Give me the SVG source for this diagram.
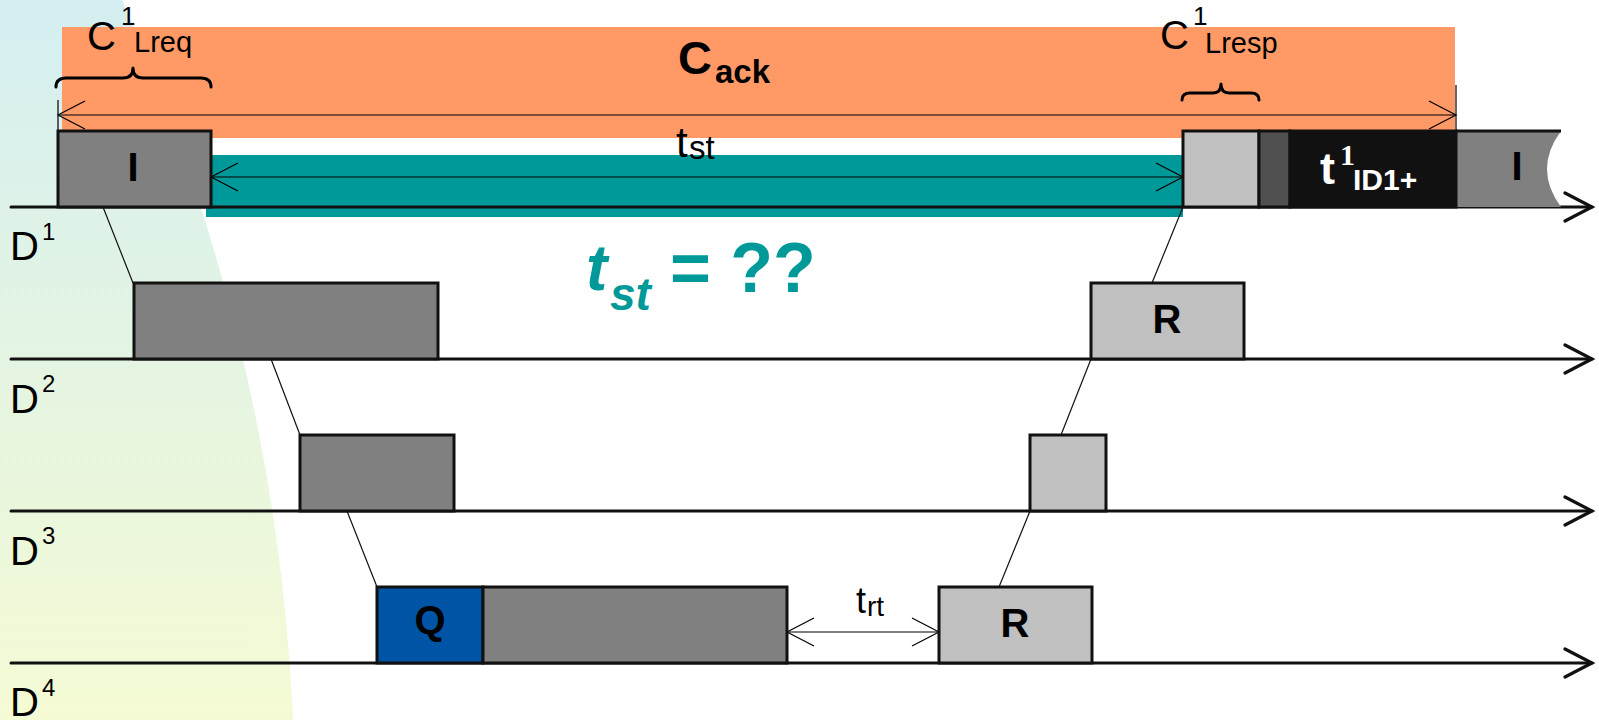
<svg xmlns="http://www.w3.org/2000/svg" width="1599" height="720" viewBox="0 0 1599 720">
  <defs>
    <linearGradient id="bgGrad" x1="0" y1="0" x2="0" y2="1">
      <stop offset="0" stop-color="#D4EEF1"/>
      <stop offset="0.45" stop-color="#E3F4E4"/>
      <stop offset="1" stop-color="#F4FBD4"/>
    </linearGradient>
    <!-- open arrowhead for dimension lines -->
    <marker id="headThin" viewBox="0 0 32 32" refX="29" refY="16" markerWidth="32" markerHeight="32" markerUnits="userSpaceOnUse" orient="auto-start-reverse">
      <path d="M2,2 L29,16 L2,30" fill="none" stroke="#000" stroke-width="1.2"/>
    </marker>
    <!-- open arrowhead for the time axes -->
    <marker id="headAxis" viewBox="0 0 36 32" refX="30" refY="16" markerWidth="36" markerHeight="32" markerUnits="userSpaceOnUse" orient="auto">
      <path d="M3,2 L30,16 L3,30" fill="none" stroke="#111" stroke-width="3.2" stroke-linecap="round"/>
    </marker>
    <style>
      .axis { stroke:#111; stroke-width:3; stroke-linecap:round; fill:none; marker-end:url(#headAxis); }
      .link { stroke:#111; stroke-width:1.2; fill:none; }
      .dim { stroke:#000; stroke-width:1.2; fill:none; marker-start:url(#headThin); marker-end:url(#headThin); }
      .tick { stroke:#000; stroke-width:1.2; }
      .brace { stroke:#000; stroke-width:3; fill:none; stroke-linecap:round; stroke-linejoin:round; }
      .box { stroke:#111; stroke-width:3; }
      .mid { fill:#808080; }
      .light { fill:#C0C0C0; }
      .dark { fill:#505050; }
      .black { fill:#111; }
      .blue { fill:#0054A6; }
      .lbl { font-family:"Liberation Sans", Arial, sans-serif; fill:#000; }
      .bold { font-weight:bold; }
      .white { fill:#fff; }
      .boxtxt { font-family:"Liberation Sans", Arial, sans-serif; font-weight:bold; font-size:40px; text-anchor:middle; fill:#000; }
      .teal { font-family:"Liberation Sans", Arial, sans-serif; font-weight:bold; fill:#009999; }
    </style>
  </defs>

  <!-- soft backdrop on the left edge -->
  <path id="backdrop" d="M0,0 L122,0 C228,240 282,480 293,720 L0,720 Z" fill="url(#bgGrad)"/>

  <!-- coloured spans -->
  <g id="bands">
    <rect x="62" y="27" width="1393" height="111" fill="#FF9966"/>
    <rect x="206" y="155" width="977" height="62" fill="#009999"/>
  </g>

  <!-- time axes D1..D4 -->
  <g id="axes">
    <line class="axis" x1="11" y1="207" x2="1592" y2="207"/>
    <line class="axis" x1="11" y1="359" x2="1592" y2="359"/>
    <line class="axis" x1="11" y1="511" x2="1592" y2="511"/>
    <line class="axis" x1="11" y1="663" x2="1592" y2="663"/>
  </g>

  <!-- connectors, dimension arrows and braces -->
  <g id="connectors">
    <line class="link" x1="103" y1="207" x2="133" y2="283"/>
    <line class="link" x1="271" y1="359" x2="300" y2="435"/>
    <line class="link" x1="347" y1="511" x2="377" y2="587"/>
    <line class="link" x1="1183" y1="207" x2="1152" y2="283"/>
    <line class="link" x1="1091" y1="359" x2="1061" y2="435"/>
    <line class="link" x1="1030" y1="511" x2="999" y2="587"/>
    <line class="tick" x1="58" y1="100" x2="58" y2="131"/>
    <line class="tick" x1="1456" y1="85" x2="1456" y2="131"/>
    <line class="dim" x1="58" y1="115" x2="1456" y2="115"/>
    <line class="dim" x1="211" y1="177" x2="1183" y2="177"/>
    <line class="dim" x1="787" y1="632" x2="939" y2="632"/>
    <path class="brace" d="M56,87 Q56,78 66,78 L123,78 Q133,78 133,68 Q133,78 143,78 L201,78 Q211,78 211,87"/>
    <path class="brace" d="M1182,100 Q1182,93 1190,93 L1213,93 Q1221,93 1221,84 Q1221,93 1229,93 L1251,93 Q1259,93 1259,100"/>
  </g>

  <!-- D1 -->
  <g id="d1-request">
    <rect class="box mid" x="58" y="131" width="153" height="76"/>
    <text class="boxtxt" x="133" y="181">I</text>
  </g>
  <g id="d1-response">
    <rect class="box light" x="1183" y="131" width="76" height="76"/>
  </g>
  <g id="d1-gap">
    <rect class="box dark" x="1259" y="131" width="31" height="76"/>
  </g>
  <g id="d1-idle">
    <rect class="box black" x="1290" y="131" width="166" height="76"/>
    <text class="lbl bold white" font-size="45" x="1320" y="184">t</text>
    <text class="white" font-family="'Liberation Serif', 'Times New Roman', serif" font-weight="bold" font-size="30" x="1340" y="165">1</text>
    <text class="lbl bold white" font-size="30" x="1353" y="190">ID1+</text>
  </g>
  <g id="d1-next">
    <path class="mid" d="M1456,131 L1561,131 Q1533,169 1561,207 L1456,207 Z"/>
    <line x1="1456" y1="131" x2="1561" y2="131" stroke="#111" stroke-width="3"/>
    <line x1="1456" y1="131" x2="1456" y2="207" stroke="#111" stroke-width="3"/>
    <text class="boxtxt" x="1517" y="180">I</text>
  </g>

  <!-- D2 -->
  <g id="d2-request">
    <rect class="box mid" x="134" y="283" width="304" height="76"/>
  </g>
  <g id="d2-response">
    <rect class="box light" x="1091" y="283" width="153" height="76"/>
    <text class="boxtxt" x="1167" y="333">R</text>
  </g>

  <!-- D3 -->
  <g id="d3-request">
    <rect class="box mid" x="300" y="435" width="154" height="76"/>
  </g>
  <g id="d3-response">
    <rect class="box light" x="1030" y="435" width="76" height="76"/>
  </g>

  <!-- D4 -->
  <g id="d4-query">
    <rect class="box blue" x="377" y="587" width="106" height="76"/>
    <text class="boxtxt" x="430" y="634">Q</text>
  </g>
  <g id="d4-process">
    <rect class="box mid" x="483" y="587" width="304" height="76"/>
  </g>
  <g id="d4-response">
    <rect class="box light" x="939" y="587" width="153" height="76"/>
    <text class="boxtxt" x="1015" y="637">R</text>
  </g>

  <!-- labels -->
  <g id="labels">
    <text class="lbl" font-size="40" x="87" y="50">C</text>
    <text class="lbl" font-size="26" x="121" y="25">1</text>
    <text class="lbl" font-size="29" x="134" y="52">Lreq</text>

    <text class="lbl bold" font-size="47" x="678" y="74">C</text>
    <text class="lbl bold" font-size="33" x="715" y="83">ack</text>

    <text class="lbl" font-size="40" x="1160" y="49">C</text>
    <text class="lbl" font-size="26" x="1193" y="25">1</text>
    <text class="lbl" font-size="29" x="1205" y="53">Lresp</text>

    <text class="lbl" font-size="42" x="676" y="157">t</text>
    <text class="lbl" font-size="33" x="689" y="159">st</text>

    <text class="teal" font-style="italic" font-size="64" x="586" y="290">t</text>
    <text class="teal" font-style="italic" font-size="46" x="610" y="310">st</text>
    <text class="teal" font-size="70" x="670" y="292">= ??</text>

    <text class="lbl" font-size="36" x="856" y="613">t</text>
    <text class="lbl" font-size="28" x="867" y="616">rt</text>

    <text class="lbl" font-size="40" x="10" y="260">D</text>
    <text class="lbl" font-size="24" x="42" y="240">1</text>
    <text class="lbl" font-size="40" x="10" y="413">D</text>
    <text class="lbl" font-size="24" x="42" y="392">2</text>
    <text class="lbl" font-size="40" x="10" y="565">D</text>
    <text class="lbl" font-size="24" x="42" y="544">3</text>
    <text class="lbl" font-size="40" x="10" y="716">D</text>
    <text class="lbl" font-size="24" x="42" y="696">4</text>
  </g>
</svg>
